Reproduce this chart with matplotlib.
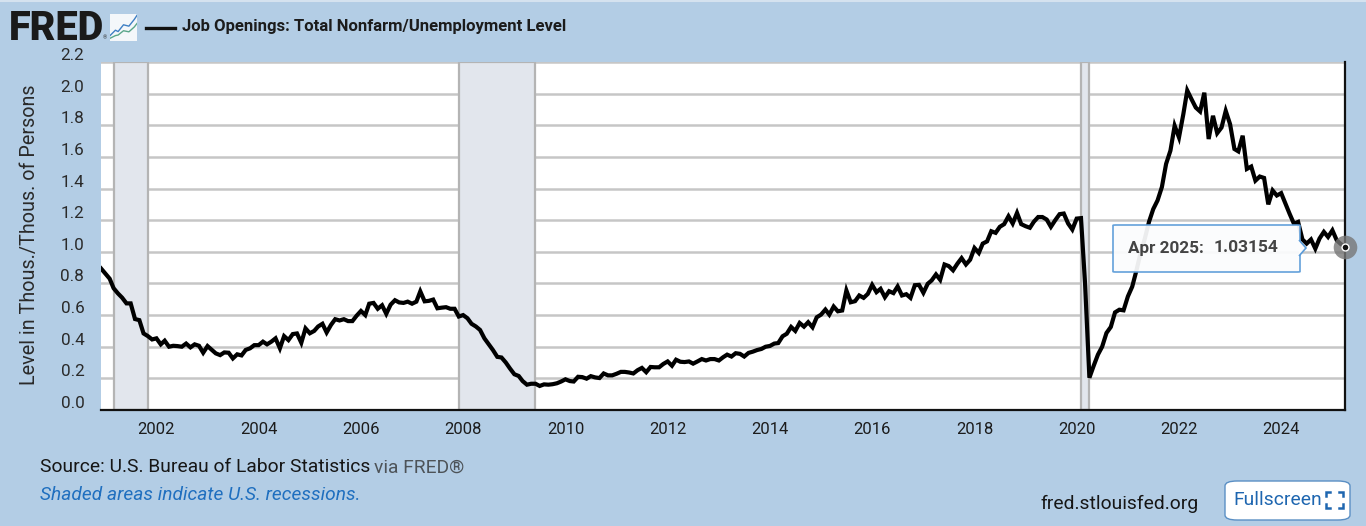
import pandas as pd
import matplotlib.pyplot as plt
import matplotlib.dates as mdates
from matplotlib.patches import FancyBboxPatch, Polygon
from matplotlib.transforms import ScaledTranslation

W, H = 1366, 526
plt.rcParams['font.family'] = ['Roboto', 'DejaVu Sans']

# ratio, month by month
v2000 = [0.895]
v2001 = [0.863, 0.83, 0.77, 0.737, 0.71, 0.674, 0.674, 0.575, 0.568, 0.484, 0.467, 0.446]
v2002 = [0.453, 0.415, 0.438, 0.40, 0.406, 0.404, 0.40, 0.42, 0.396, 0.415, 0.406, 0.362]
v2003 = [0.404, 0.38, 0.358, 0.347, 0.364, 0.362, 0.326, 0.352, 0.345, 0.38, 0.39, 0.41]
v2004 = [0.41, 0.432, 0.415, 0.432, 0.453, 0.39, 0.467, 0.442, 0.48, 0.484, 0.425, 0.516]
v2005 = [0.485, 0.50, 0.528, 0.545, 0.49, 0.538, 0.574, 0.566, 0.574, 0.562, 0.562, 0.596]
v2006 = [0.626, 0.60, 0.672, 0.677, 0.64, 0.662, 0.608, 0.666, 0.694, 0.68, 0.677, 0.685]
v2007 = [0.672, 0.685, 0.75, 0.687, 0.69, 0.698, 0.643, 0.647, 0.65, 0.64, 0.64, 0.591]
v2008 = [0.60, 0.58, 0.545, 0.528, 0.506, 0.453, 0.417, 0.379, 0.336, 0.332, 0.30, 0.262]
v2009 = [0.226, 0.215, 0.183, 0.16, 0.166, 0.166, 0.152, 0.162, 0.16, 0.163, 0.169, 0.18]
v2010 = [0.194, 0.183, 0.18, 0.21, 0.208, 0.198, 0.214, 0.206, 0.202, 0.231, 0.219, 0.219]
v2011 = [0.229, 0.241, 0.241, 0.237, 0.231, 0.252, 0.266, 0.239, 0.272, 0.27, 0.27, 0.291]
v2012 = [0.307, 0.28, 0.318, 0.305, 0.303, 0.307, 0.293, 0.307, 0.322, 0.313, 0.322, 0.322]
v2013 = [0.313, 0.334, 0.35, 0.338, 0.359, 0.355, 0.338, 0.361, 0.369, 0.379, 0.386, 0.40]
v2014 = [0.405, 0.42, 0.423, 0.466, 0.482, 0.525, 0.50, 0.55, 0.527, 0.555, 0.523, 0.586]
v2015 = [0.603, 0.635, 0.603, 0.654, 0.624, 0.629, 0.756, 0.681, 0.688, 0.724, 0.709, 0.734]
v2016 = [0.791, 0.745, 0.766, 0.713, 0.751, 0.739, 0.781, 0.724, 0.732, 0.709, 0.789, 0.791]
v2017 = [0.741, 0.798, 0.819, 0.857, 0.823, 0.92, 0.91, 0.883, 0.925, 0.96, 0.92, 0.95]
v2018 = [1.024, 0.993, 1.052, 1.066, 1.13, 1.12, 1.158, 1.175, 1.225, 1.179, 1.246, 1.175]
v2019 = [1.162, 1.152, 1.19, 1.22, 1.22, 1.204, 1.158, 1.20, 1.238, 1.242, 1.179, 1.141]
v2020 = [1.21, 1.213, 0.80, 0.204, 0.278, 0.35, 0.40, 0.487, 0.525, 0.617, 0.634, 0.63]
v2021 = [0.718, 0.78, 0.875, 0.99, 1.08, 1.19, 1.27, 1.325, 1.41, 1.556, 1.64, 1.797]
v2022 = [1.723, 1.87, 2.02, 1.964, 1.912, 1.887, 2.006, 1.713, 1.86, 1.75, 1.786, 1.891]
v2023 = [1.807, 1.65, 1.635, 1.734, 1.524, 1.539, 1.45, 1.476, 1.467, 1.30, 1.388, 1.356]
v2024 = [1.371, 1.304, 1.241, 1.178, 1.189, 1.078, 1.052, 1.078, 1.02, 1.084, 1.126, 1.094]
v2025 = [1.136, 1.073, 1.05, 1.03154]

values = (v2000 + v2001 + v2002 + v2003 + v2004 + v2005 + v2006 + v2007 + v2008
          + v2009 + v2010 + v2011 + v2012 + v2013 + v2014 + v2015 + v2016 + v2017
          + v2018 + v2019 + v2020 + v2021 + v2022 + v2023 + v2024 + v2025)
dates = pd.date_range('2000-12-01', periods=len(values), freq='MS')

recessions = [('2001-03-01', '2001-11-01'), ('2007-12-01', '2009-06-01'), ('2020-02-01', '2020-04-01')]
y_ticks = [0.0, 0.2, 0.4, 0.6, 0.8, 1.0, 1.2, 1.4, 1.6, 1.8, 2.0, 2.2]
x_years = list(range(2002, 2025, 2))

BG = '#b3cde5'
INK = '#1c1c1c'


def fx(x):
    return x / W


def fy(y):
    return 1 - y / H


def put(x, y, s, **kw):
    # text placed in image pixels
    return fig.text(fx(x), fy(y), s, va=kw.pop('va', 'center'), **kw)


fig = plt.figure(figsize=(W / 100, H / 100), dpi=100, facecolor=BG)

ax = fig.add_axes([fx(101), fy(410), (1345 - 101) / W, (410 - 62) / H])
for start, end in recessions:
    ax.axvspan(pd.Timestamp(start), pd.Timestamp(end), facecolor='#e2e6ed',
               edgecolor='#b4b4b4', linewidth=1.6, zorder=1)
ax.set_yticks(y_ticks)
ax.set_ylim(0, 2.2)
ax.set_yticklabels(['%.1f' % t for t in y_ticks])
ax.grid(axis='y', color='#c6c6c6', linewidth=1.8, zorder=2)
ax.set_axisbelow(True)
ax.plot(dates, values, color='black', linewidth=3.0, solid_joinstyle='miter', zorder=3)

ax.set_xlim(dates[0], dates[-1])
ax.set_xticks([pd.Timestamp(year=y, month=1, day=1) for y in x_years])
ax.xaxis.set_major_formatter(mdates.DateFormatter('%Y'))
ax.tick_params(axis='x', length=0, pad=9, labelsize=12, labelcolor=INK)
ax.tick_params(axis='y', length=0, pad=12, labelsize=12.3, labelcolor='#2a2a2a')
# y labels sit above their gridlines in the original
for lab in ax.get_yticklabels():
    lab.set_transform(lab.get_transform() + ScaledTranslation(0, 8 / 100, fig.dpi_scale_trans))

for side in ['top', 'left']:
    ax.spines[side].set_visible(False)
for side in ['bottom', 'right']:
    ax.spines[side].set_color('#111111')
    ax.spines[side].set_linewidth(1.6)

put(30, 235, 'Level in Thous./Thous. of Persons', rotation=90, ha='center', fontsize=14.2, color='#2a2a2a')

# header
put(9, 28.5, 'FRED', fontsize=28.5, fontweight='black', color='#1a1a1a')
put(102.5, 38, '®', fontsize=4, color='#333333')
icon = fig.add_axes([fx(110), fy(41), 27 / W, 27 / H], facecolor='#f4f7fa')
icon.plot([0, 2, 3, 5, 7, 9, 10], [2, 4, 3.5, 6, 5.5, 8, 9.5], color='#3f7fc4', linewidth=1)
icon.plot([0, 2, 3, 5, 7, 9, 10], [1, 2, 2.2, 3.8, 3.4, 5.2, 6.5], color='#5aa68a', linewidth=1)
icon.set_xlim(0, 10)
icon.set_ylim(0, 10)
icon.set_xticks([])
icon.set_yticks([])
for s in icon.spines.values():
    s.set_visible(False)
fig.add_artist(plt.Line2D([fx(146), fx(175)], [fy(27.5), fy(27.5)], color='#111111', linewidth=2.4))
put(182, 26.5, 'Job Openings: Total Nonfarm/Unemployment Level', fontsize=12, fontweight='bold', color='#1c1c1c')

# tooltip and end marker
ax.plot(dates[-1], values[-1], 'o', color='#777777', alpha=0.8, markersize=17, markeredgewidth=0, clip_on=False, zorder=5)
ax.plot(dates[-1], values[-1], 'o', color='#111111', markeredgecolor='white', markeredgewidth=1, markersize=5, clip_on=False, zorder=6)
tip = FancyBboxPatch((fx(1113), fy(272)), 187 / W, 47 / H, boxstyle='round,pad=0,rounding_size=0.002',
                     transform=fig.transFigure, facecolor='#fbfcfd', edgecolor='#5a9bd8', linewidth=1.2,
                     alpha=0.94, zorder=7, mutation_aspect=H / W)
fig.add_artist(tip)
point = Polygon([(fx(1299), fy(240)), (fx(1306), fy(248)), (fx(1299), fy(256))], closed=False,
                transform=fig.transFigure, facecolor='#fbfcfd', edgecolor='#5a9bd8', linewidth=1.2, zorder=7)
fig.add_artist(point)
put(1128, 248, 'Apr 2025:', fontsize=12.3, fontweight='bold', color='#444444', zorder=8)
put(1214, 248, '1.03154', fontsize=12.5, fontweight='bold', color='#444444', zorder=8)

# footer
put(40, 467.5, 'Source: U.S. Bureau of Labor Statistics', fontsize=13.9, color='#161616')
put(374, 467.5, 'via FRED®', fontsize=13.9, color='#4d5358')
put(40, 494.5, 'Shaded areas indicate U.S. recessions.', fontsize=13.8, style='italic', color='#1f6fbf')
put(1040, 504, 'fred.stlouisfed.org', fontsize=13.9, color='#161616')

btn = FancyBboxPatch((fx(1225), fy(520)), 125 / W, 39 / H, boxstyle='round,pad=0,rounding_size=0.009',
                     transform=fig.transFigure, facecolor='white', edgecolor='#5a8fc4', linewidth=1,
                     mutation_aspect=W / H * 0.4, zorder=7)
fig.add_artist(btn)
put(1233, 500, 'Fullscreen', fontsize=13.9, color='#1e66b0', zorder=8)
for (x0, y0, dx, dy) in [(1326, 492, 1, 1), (1343, 492, -1, 1), (1326, 508, 1, -1), (1343, 508, -1, -1)]:
    fig.add_artist(plt.Line2D([fx(x0 + 4 * dx), fx(x0), fx(x0)], [fy(y0), fy(y0), fy(y0 + 4 * dy)],
                              color='#1e66b0', linewidth=1.8, zorder=8, solid_joinstyle='miter'))

# thin lighter strip along the top of the page
fig.add_artist(plt.Line2D([0, 1], [fy(0.5), fy(0.5)], color='#d5e2ef', linewidth=1.5))

plt.savefig('out.png', dpi=100, facecolor=fig.get_facecolor())
